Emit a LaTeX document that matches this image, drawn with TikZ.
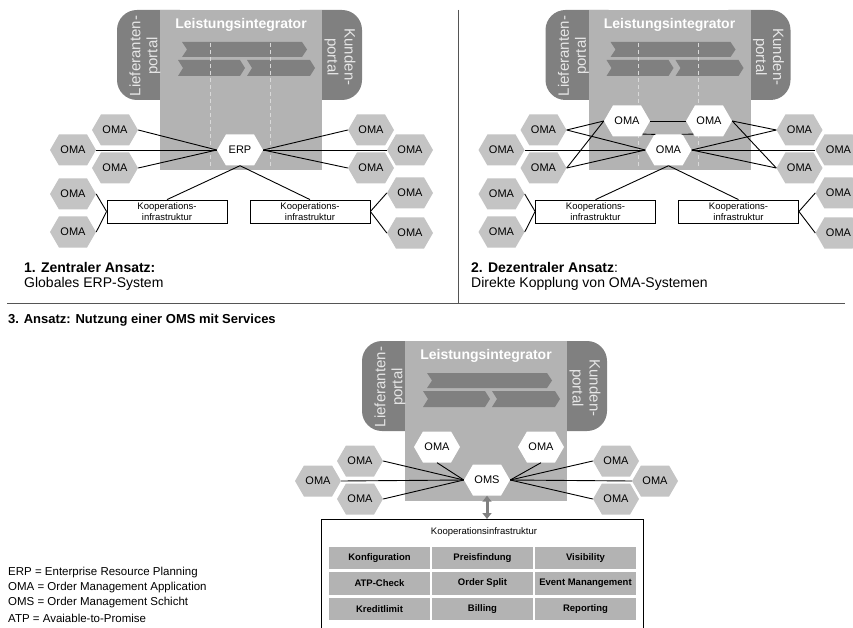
\documentclass[tikz,border=0pt]{standalone}
\usepackage{fontspec}
\setmainfont{Liberation Sans}
\usetikzlibrary{shapes.symbols,arrows.meta}
\definecolor{dkgray}{HTML}{808080}
\definecolor{ltgray}{HTML}{B3B3B3}
\definecolor{hexgray}{HTML}{C4C4C4}
\definecolor{dashgray}{HTML}{D9D9D9}
\definecolor{portaltext}{HTML}{E6E6E6}
\definecolor{divgray}{HTML}{555555}
\newcommand\setfs[2]{\fontsize{#1}{#2}\selectfont}
\tikzset{
  hexg/.style={signal, signal to=east and west, signal pointer angle=120,
    fill=hexgray, draw=none, minimum width=46pt, minimum height=31pt,
    inner sep=0pt, font=\setfs{11}{13}},
  hexw/.style={hexg, fill=white},
  conn/.style={draw=black, line width=0.9pt},
  koopbox/.style={draw=black, line width=0.8pt, fill=white, minimum width=120pt,
    minimum height=23pt, inner sep=0pt, align=center, font=\setfs{9.5}{11}},
  portalshape/.style={fill=dkgray, rounded corners=20pt},
  portaltxt/.style={text=portaltext, align=center, font=\setfs{15}{17}, inner sep=0pt},
  titletxt/.style={text=white, font=\bfseries\setfs{14}{16}, inner sep=0pt},
  dashg/.style={draw=dashgray, line width=0.8pt, dash pattern=on 4pt off 3pt},
  captxt/.style={anchor=west, font=\setfs{14}{16}, inner sep=0pt},
  legtxt/.style={anchor=west, font=\setfs{11.5}{14}, inner sep=0pt},
  cellbox/.style={fill=ltgray, minimum width=101pt, minimum height=22.5pt,
    inner sep=0pt, font=\bfseries\setfs{9.5}{11}},
  dblarrow/.style={draw=dkgray, line width=3pt,
    {Triangle[length=6pt,width=9pt]}-{Triangle[length=6pt,width=9pt]}},
  divline/.style={draw=divgray, line width=0.9pt}
}
% integrator block (portals, main area, title, chevrons)
\newcommand\mkintegrator{%
  \fill[portalshape] (117,10) rectangle (200,100);
  \fill[portalshape] (280,10) rectangle (362,100);
  \fill[ltgray] (160,10) rectangle (322,170);
  \node[portaltxt, rotate=90] (lp) at (145,56) {Lieferanten-\\portal};
  \node[portaltxt, rotate=-90] (kp) at (340,57) {Kunden-\\portal};
  \node[titletxt] (ti) at (241,25) {Leistungsintegrator};
  \fill[dkgray] (182,42) -- (302,42) -- (307,49.5) -- (302,57) -- (182,57) -- (187,49.5) -- cycle;
  \fill[dkgray] (178,60) -- (240,60) -- (245,68) -- (240,76) -- (178,76) -- (183,68) -- cycle;
  \fill[dkgray] (247,60) -- (310,60) -- (315,68) -- (310,76) -- (247,76) -- (252,68) -- cycle;
}
\newcommand\mkdashes{%
  \draw[dashg] (210,43) -- (210,166);
  \draw[dashg] (270,43) -- (270,166);
}
% ring of gray OMAs around the centre
\newcommand\mkring{%
  \node[hexg] (li1) at (115,130) {OMA};
  \node[hexg] (li2) at (115,168) {OMA};
  \node[hexg] (lo1) at (73,150) {OMA};
  \node[hexg] (ri1) at (371,130) {OMA};
  \node[hexg] (ri2) at (371,168) {OMA};
  \node[hexg] (ro1) at (410,150) {OMA};
}
% lower group with cooperation boxes
\newcommand\mklower{%
  \node[hexg] (lo2) at (73,194) {OMA};
  \node[hexg] (lo3) at (73,232) {OMA};
  \node[hexg] (ro2) at (410,193) {OMA};
  \node[hexg] (ro3) at (410,233) {OMA};
  \node[koopbox] (k1) at (167,211.5) {Kooperations-\\infrastruktur};
  \node[koopbox] (k2) at (310,211.5) {Kooperations-\\infrastruktur};
  \draw[conn] (k1.west) -- (lo2.east);
  \draw[conn] (k1.west) -- (lo3.east);
  \draw[conn] (k2.east) -- (ro2.west);
  \draw[conn] (k2.east) -- (ro3.west);
  \draw[conn] (c.south) -- (k1.north);
  \draw[conn] (c.south) -- (k2.north);
}
\newcommand\mkspokes{%
  \draw[conn] (c.west) -- (li1.east);
  \draw[conn] (c.west) -- (lo1.east);
  \draw[conn] (c.west) -- (li2.east);
  \draw[conn] (c.east) -- (ri1.west);
  \draw[conn] (c.east) -- (ro1.west);
  \draw[conn] (c.east) -- (ri2.west);
}
\begin{document}
\begin{tikzpicture}[x=1pt,y=-1pt]
\useasboundingbox (0,0) rectangle (853,628);
\clip (0,0) rectangle (853,628);
\fill[white] (0,0) rectangle (853,628);

% ---------- Panel 1 ----------
\begin{scope}[name prefix=p1-]
  \mkintegrator
  \mkdashes
  \mkring
  \node[hexw] (c) at (240,150) {ERP};
  \mkspokes
  \mklower
\end{scope}
\node[captxt, font=\bfseries\setfs{14}{16}] (cap1a) at (24,267) {1. Zentraler Ansatz:};
\node[captxt] (cap1b) at (24,284) {Globales ERP-System};

% divider lines
\coordinate (dv1) at (458,10);
\coordinate (dv2) at (458,303);
\coordinate (hz1) at (7,303);
\coordinate (hz2) at (845,303);
\draw[divline] (dv1) -- (dv2);
\draw[divline] (hz1) -- (hz2);

% ---------- Panel 2 ----------
\begin{scope}[shift={(428.5,0)}, name prefix=p2-]
  \mkintegrator
  \mkdashes
  \mkring
  \node[hexw] (c) at (240,150) {OMA};
  \node[hexw] (tl) at (198.5,121) {OMA};
  \node[hexw] (tr) at (280.5,121) {OMA};
  \mkspokes
  \draw[conn] (tl.west) -- (li1.east);
  \draw[conn] (tl.west) -- (li2.east);
  \draw[conn] (tr.east) -- (ri1.west);
  \draw[conn] (tr.east) -- (ri2.west);
  \draw[conn] (tl.east) -- (tr.west);
  \draw[conn] (tl.-40) -- (c.130);
  \draw[conn] (tr.-140) -- (c.50);
  \mklower
\end{scope}
\node[captxt] (cap2a) at (471,267) {\textbf{2. Dezentraler Ansatz}:};
\node[captxt] (cap2b) at (471,284) {Direkte Kopplung von OMA-Systemen};

% ---------- Panel 3 ----------
\node[anchor=west, font=\bfseries\setfs{13}{15}, inner sep=0pt] (hdr3) at (8,320) {3. Ansatz: Nutzung einer OMS mit Services};
\begin{scope}[shift={(245,331)}, name prefix=p3-]
  \mkintegrator
  \mkring
  \node[hexw] (c) at (242,149) {OMS};
  \node[hexw] (tl) at (192,116) {OMA};
  \node[hexw] (tr) at (296,116) {OMA};
  \mkspokes
  \draw[conn] (tl.south) -- (c.west);
  \draw[conn] (tr.south) -- (c.east);
\end{scope}

% cooperation infrastructure with services
\node[draw=black, line width=0.8pt, minimum width=322pt, minimum height=115pt,
  anchor=north west, inner sep=0pt] (kis) at (321,519) {};
\node[font=\setfs{9.5}{11}, inner sep=0pt] (kist) at (484,532) {Kooperationsinfrastruktur};
\node[cellbox] (s11) at (379.5,558) {Konfiguration};
\node[cellbox] (s12) at (482.5,558) {Preisfindung};
\node[cellbox] (s13) at (585.5,558) {Visibility};
\node[cellbox] (s21) at (379.5,583.5) {ATP-Check};
\node[cellbox] (s22) at (482.5,583.5) {Order Split};
\node[cellbox] (s23) at (585.5,583.5) {Event Manangement};
\node[cellbox] (s31) at (379.5,609) {Kreditlimit};
\node[cellbox] (s32) at (482.5,609) {Billing};
\node[cellbox] (s33) at (585.5,609) {Reporting};
\draw[dblarrow] (p3-c.south) -- (p3-c.south |- kis.north);

% legend
\node[legtxt] (lg1) at (8,573) {ERP = Enterprise Resource Planning};
\node[legtxt] (lg2) at (8,588) {OMA = Order Management Application};
\node[legtxt] (lg3) at (8,603) {OMS = Order Management Schicht};
\node[legtxt] (lg4) at (8,618) {ATP = Avaiable-to-Promise};
\end{tikzpicture}
\end{document}
